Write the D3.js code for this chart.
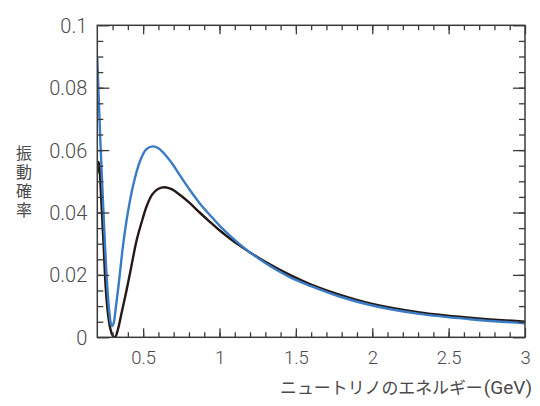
<!DOCTYPE html>
<html>
<head>
<meta charset="utf-8">
<script src="https://cdn.jsdelivr.net/npm/d3@7"></script>
<style>
  html, body { margin: 0; padding: 0; background: #fff; }
  svg { display: block; }
</style>
</head>
<body>
<svg id="chart" width="540" height="406"></svg>
<script>
// ---- data ----
const energyBlue = [0.200,0.210,0.220,0.235,0.250,0.265,0.280,0.290,0.298,0.307,0.320,0.340,0.370,0.400,0.436,0.480,0.520,0.562,0.600,0.650,0.700,0.742,0.806,0.870,0.937,1.000,1.070,1.135,1.200,1.300,1.460,1.600,1.790,2.000,2.310,2.640,3.000];
const probBlue   = [0.0895,0.0760,0.0630,0.0460,0.0300,0.0165,0.0075,0.0042,0.0036,0.0045,0.0090,0.0170,0.0300,0.0400,0.0490,0.0565,0.0602,0.0612,0.0606,0.0582,0.0550,0.0518,0.0472,0.0430,0.0392,0.0358,0.0325,0.0297,0.0272,0.0238,0.0193,0.0164,0.0130,0.0102,0.0075,0.0058,0.0045];

const energyBlack = [0.200,0.206,0.212,0.220,0.230,0.240,0.255,0.270,0.285,0.300,0.316,0.335,0.360,0.392,0.420,0.458,0.500,0.523,0.560,0.600,0.643,0.690,0.742,0.806,0.870,0.937,1.000,1.070,1.135,1.200,1.300,1.460,1.600,1.790,2.000,2.310,2.640,3.000];
const probBlack   = [0.0525,0.0562,0.0555,0.0500,0.0400,0.0310,0.0160,0.0075,0.0028,0.0006,0.0000,0.0025,0.0080,0.0152,0.0220,0.0312,0.0385,0.0420,0.0458,0.0476,0.0481,0.0474,0.0456,0.0430,0.0400,0.0370,0.0343,0.0316,0.0293,0.0272,0.0242,0.0200,0.0169,0.0136,0.0107,0.0080,0.0063,0.0050];

const xTickValues = [0.5, 1, 1.5, 2, 2.5, 3];
const xTickLabels = ["0.5", "1", "1.5", "2", "2.5", "3"];
const yTickValues = [0, 0.02, 0.04, 0.06, 0.08, 0.1];
const yTickLabels = ["0", "0.02", "0.04", "0.06", "0.08", "0.1"];
const xMinorTicks = d3.range(3, 30).map(d => d / 10);
const yMinorTicks = d3.range(1, 20).map(d => d * 0.005);

const yTitle = "振動確率";
const xTitleMain = "ニュートリノのエネルギー";
const xTitleUnit = "(GeV)";

// ---- layout ----
const L = 97.3, R = 525, T = 25.3, B = 337.3;
const x = d3.scaleLinear().domain([0.2, 3]).range([L, R]);
const y = d3.scaleLinear().domain([0, 0.1]).range([B, T]);

const svg = d3.select("#chart");
const axisColor = "#3a3a3a";
const textColor = "#4a4a4a";
const numFont = "Roboto, 'Liberation Sans', sans-serif";
const cjkFont = "'Noto Sans CJK JP', sans-serif";

svg.append("defs").append("clipPath").attr("id", "clip")
  .append("rect").attr("x", L).attr("y", T - 2).attr("width", R - L).attr("height", B - T + 2);

// curves
const lineGen = (xs, ys) => d3.line()
  .x((d, i) => x(xs[i])).y((d, i) => y(ys[i]))
  .curve(d3.curveCatmullRom.alpha(0.5))(xs);

const g = svg.append("g").attr("clip-path", "url(#clip)");
g.append("path").attr("d", lineGen(energyBlack, probBlack))
  .attr("fill", "none").attr("stroke", "#231815").attr("stroke-width", 2.4);
g.append("path").attr("d", lineGen(energyBlue, probBlue))
  .attr("fill", "none").attr("stroke", "#3a7bc4").attr("stroke-width", 2.4);

// axes (ticks pointing inward)
function styleAxis(sel) {
  sel.select(".domain").remove();
  sel.selectAll("line").attr("stroke", axisColor).attr("stroke-width", 1.3);
}
const bottomMajor = d3.axisBottom(x).tickValues(xTickValues).tickSize(-9).tickFormat((d, i) => xTickLabels[i]);
const bottomMinor = d3.axisBottom(x).tickValues(xMinorTicks).tickSize(-5).tickFormat("");
const topMajor = d3.axisTop(x).tickValues(xTickValues).tickSize(-9).tickFormat("");
const topMinor = d3.axisTop(x).tickValues(xMinorTicks).tickSize(-5).tickFormat("");
const leftMajor = d3.axisLeft(y).tickValues(yTickValues).tickSize(-12).tickFormat((d, i) => yTickLabels[i]);
const leftMinor = d3.axisLeft(y).tickValues(yMinorTicks).tickSize(-6).tickFormat("");
const rightMajor = d3.axisRight(y).tickValues(yTickValues).tickSize(-12).tickFormat("");
const rightMinor = d3.axisRight(y).tickValues(yMinorTicks).tickSize(-6).tickFormat("");

const gb = svg.append("g").attr("transform", `translate(0,${B})`).call(bottomMajor).call(styleAxis);
svg.append("g").attr("transform", `translate(0,${B})`).call(bottomMinor).call(styleAxis);
svg.append("g").attr("transform", `translate(0,${T})`).call(topMajor).call(styleAxis);
svg.append("g").attr("transform", `translate(0,${T})`).call(topMinor).call(styleAxis);
const gl = svg.append("g").attr("transform", `translate(${L},0)`).call(leftMajor).call(styleAxis);
svg.append("g").attr("transform", `translate(${L},0)`).call(leftMinor).call(styleAxis);
svg.append("g").attr("transform", `translate(${R},0)`).call(rightMajor).call(styleAxis);
svg.append("g").attr("transform", `translate(${R},0)`).call(rightMinor).call(styleAxis);

gb.selectAll("text").attr("y", 14).attr("dy", "0.71em")
  .attr("font-family", numFont).attr("font-weight", 300).attr("font-size", 18.5)
  .attr("fill", textColor);
gl.selectAll("text").attr("x", -10).attr("dy", "0.35em")
  .attr("font-family", numFont).attr("font-weight", 300).attr("font-size", 20)
  .attr("fill", textColor);

// frame
svg.append("rect").attr("x", L).attr("y", T).attr("width", R - L).attr("height", B - T)
  .attr("fill", "none").attr("stroke", axisColor).attr("stroke-width", 1.5);

// y title (vertical text)
svg.append("text")
  .attr("x", 24).attr("y", 145)
  .attr("style", "writing-mode: vertical-rl; text-orientation: upright; letter-spacing: 3px")
  .attr("font-family", cjkFont).attr("font-size", 16)
  .attr("fill", textColor).text(yTitle);

// x title
const xt = svg.append("text").attr("x", 532).attr("y", 394)
  .attr("text-anchor", "end").attr("fill", textColor);
xt.append("tspan").attr("font-family", cjkFont).attr("font-size", 16.9).text(xTitleMain);
xt.append("tspan").attr("font-family", numFont).attr("font-size", 19).attr("dx", 1).text(xTitleUnit);
</script>
</body>
</html>
